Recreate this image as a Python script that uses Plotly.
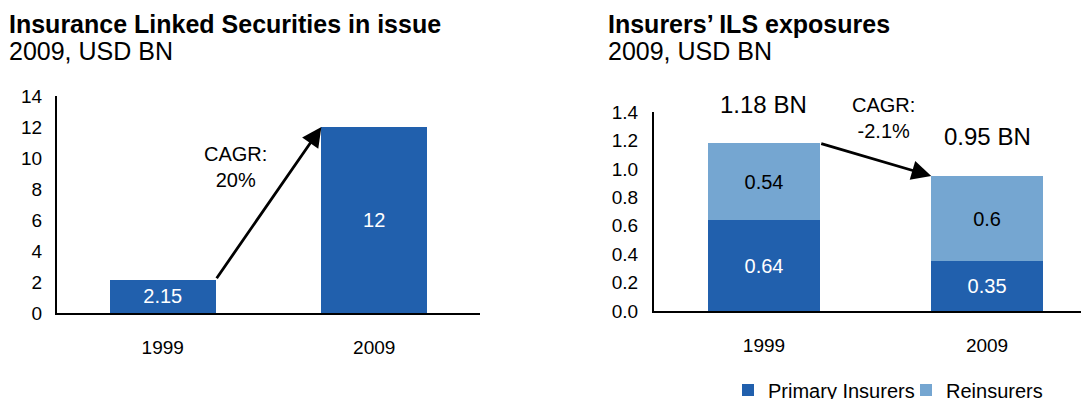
import plotly.graph_objects as go

# ---------------- data ----------------
years = ["1999", "2009"]
ils_in_issue = [2.15, 12]            # USD BN
primary_insurers = [0.64, 0.35]      # USD BN
reinsurers = [0.54, 0.60]            # USD BN
left_ticks = [0, 2, 4, 6, 8, 10, 12, 14]
right_ticks = [0.0, 0.2, 0.4, 0.6, 0.8, 1.0, 1.2, 1.4]
cagr_left = "CAGR:<br>20%"
cagr_right = "CAGR:<br>-2.1%"
title_left = "Insurance Linked Securities in issue"
title_right = "Insurers’ ILS exposures"
subtitle = "2009, USD BN"

# ---------------- style ----------------
PAGE_W, PAGE_H = 1089, 399
OFF = 8                      # default body margin of the html page
W, H = PAGE_W - OFF, PAGE_H - OFF
DARK = "#2160AD"
LIGHT = "#75A6D1"
FONT = "Liberation Sans, Arial, sans-serif"


def px_x(p):
    """page pixel -> paper fraction"""
    return (p - OFF) / W


def px_y(p):
    return 1 - (p - OFF) / H


fig = go.Figure()

fig.add_trace(go.Bar(
    x=years, y=ils_in_issue, xaxis="x", yaxis="y",
    marker=dict(color=DARK, line=dict(width=0)), width=0.5,
    text=[f"{v:g}" for v in ils_in_issue], textposition="inside",
    insidetextanchor="middle", constraintext="none",
    textfont=dict(color="white", size=20, family=FONT),
    showlegend=False, hoverinfo="skip",
))
fig.add_trace(go.Bar(
    x=years, y=primary_insurers, xaxis="x2", yaxis="y2",
    name="Primary Insurers",
    marker=dict(color=DARK, line=dict(width=0)), width=0.5,
    text=[f"{v:g}" for v in primary_insurers], textposition="inside",
    insidetextanchor="middle", constraintext="none",
    textfont=dict(color="white", size=20, family=FONT),
    hoverinfo="skip",
))
fig.add_trace(go.Bar(
    x=years, y=reinsurers, xaxis="x2", yaxis="y2",
    name="Reinsurers",
    marker=dict(color=LIGHT, line=dict(width=0)), width=0.5,
    text=[f"{v:g}" for v in reinsurers], textposition="inside",
    insidetextanchor="middle", constraintext="none",
    textfont=dict(color="black", size=20, family=FONT),
    hoverinfo="skip",
))

axis_common = dict(
    showgrid=False, zeroline=False, showline=True, linecolor="black",
    linewidth=2, ticks="", automargin=False, fixedrange=True,
    tickfont=dict(size=19, color="black", family=FONT),
)

fig.update_layout(
    width=W, height=H,
    template="none",
    barmode="stack",
    paper_bgcolor="white", plot_bgcolor="white",
    margin=dict(l=0, r=0, t=0, b=0, autoexpand=False),
    font=dict(family=FONT, color="black", size=20),
    xaxis=dict(domain=[px_x(57), px_x(480)], type="category",
               range=[-0.5, 1.5], anchor="y", ticklabelstandoff=16,
               **axis_common),
    yaxis=dict(domain=[px_y(313), px_y(96)], range=[0, 14],
               tickvals=left_ticks, anchor="x", ticklabelstandoff=9,
               **axis_common),
    xaxis2=dict(domain=[px_x(654), 1.0], type="category",
                range=[-0.493, 1.457], anchor="y2", ticklabelstandoff=16,
                **axis_common),
    yaxis2=dict(domain=[px_y(311), px_y(112)], range=[0, 1.4],
                tickvals=right_ticks, tickformat=".1f", anchor="x2",
                ticklabelstandoff=10, **axis_common),
    legend=dict(orientation="h", x=px_x(728), y=px_y(390),
                xanchor="left", yanchor="middle",
                font=dict(size=20, family=FONT, color="black"),
                bgcolor="rgba(0,0,0,0)", entrywidth=133,
                traceorder="normal"),
    showlegend=True,
)

annotations = []
# titles
for x0, t in [(7, title_left), (606, title_right)]:
    annotations.append(dict(
        text=f"<b>{t}</b>", x=px_x(x0), y=px_y(24), xref="paper", yref="paper",
        xanchor="left", yanchor="middle", showarrow=False,
        font=dict(size=25, family=FONT, color="black")))
    annotations.append(dict(
        text=subtitle, x=px_x(x0), y=px_y(51), xref="paper", yref="paper",
        xanchor="left", yanchor="middle", showarrow=False,
        font=dict(size=25, family=FONT, color="black")))

# CAGR labels
annotations.append(dict(text=cagr_left, x=0.346, y=9.45, xref="x", yref="y",
                        showarrow=False, align="center",
                        font=dict(size=20, family=FONT, color="black")))
annotations.append(dict(text=cagr_right, x=0.534, y=1.355, xref="x2", yref="y2",
                        showarrow=False, align="center",
                        font=dict(size=20, family=FONT, color="black")))

# arrows
annotations.append(dict(x=0.75, y=ils_in_issue[1], ax=0.25, ay=ils_in_issue[0],
                        xref="x", yref="y", axref="x", ayref="y", text="",
                        showarrow=True, arrowhead=2, arrowsize=1.4,
                        arrowwidth=2.8, arrowcolor="black", standoff=0))
totals = [p + r for p, r in zip(primary_insurers, reinsurers)]
annotations.append(dict(x=0.75, y=totals[1], ax=0.25, ay=totals[0],
                        xref="x2", yref="y2", axref="x2", ayref="y2", text="",
                        showarrow=True, arrowhead=2, arrowsize=1.4,
                        arrowwidth=2.8, arrowcolor="black", standoff=0))

# totals above stacked bars
for i in range(len(years)):
    annotations.append(dict(text=f"{totals[i]:.2f} BN", x=i, y=totals[i],
                            xref="x2", yref="y2", yanchor="middle", yshift=39,
                            showarrow=False,
                            font=dict(size=24, family=FONT, color="black")))

fig.update_layout(annotations=annotations)

fig.write_html("out.html")
